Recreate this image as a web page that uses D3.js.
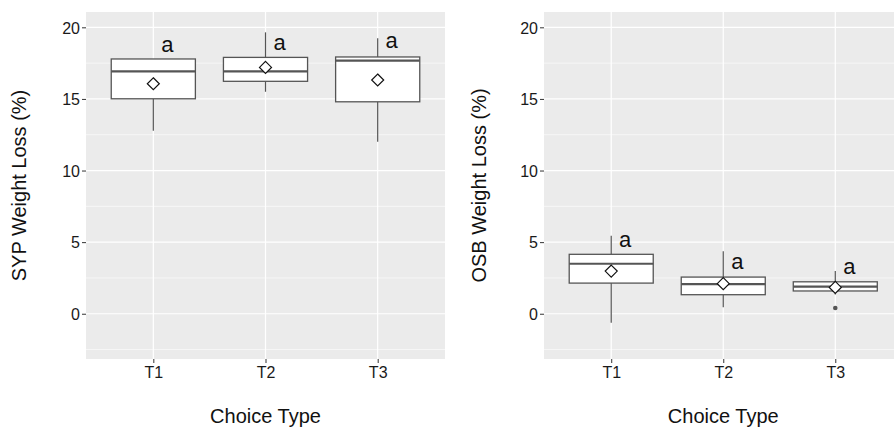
<!DOCTYPE html>
<html>
<head>
<meta charset="utf-8">
<script src="https://cdn.jsdelivr.net/npm/d3@7"></script>
<style>
  body { margin: 0; background: #fff; }
  svg { display: block; font-family: "Liberation Sans", Arial, sans-serif; }
</style>
</head>
<body>
<svg id="viz-container" width="894" height="429"></svg>
<script>
// categories and tick values
var categories = ["T1", "T2", "T3"];
var yTicks = [0, 5, 10, 15, 20];
var yMinor = [-2.5, 2.5, 7.5, 12.5, 17.5];
var letters = ["a", "a", "a"];

// SYP box stats
var sypLower  = [12.78, 15.50, 12.01];
var sypQ1     = [15.01, 16.23, 14.80];
var sypMedian = [16.93, 16.93, 17.67];
var sypQ3     = [17.79, 17.90, 17.93];
var sypUpper  = [17.79, 19.65, 19.23];
var sypMean   = [16.06, 17.20, 16.32];
var sypLetterY = [18.27, 18.41, 18.53];
var sypOutliers = [[], [], []];

// OSB box stats
var osbLower  = [-0.63, 0.45, 1.35];
var osbQ1     = [2.14, 1.33, 1.59];
var osbMedian = [3.49, 2.07, 1.89];
var osbQ3     = [4.15, 2.56, 2.23];
var osbUpper  = [5.45, 4.36, 2.98];
var osbMean   = [2.98, 2.10, 1.84];
var osbLetterY = [4.68, 3.10, 2.75];
var osbOutliers = [[], [], [0.40]];

var svg = d3.select("#viz-container");

function panel(opts) {
  var left = opts.left, right = opts.right, top = 12, bottom = 359;

  // discrete x with 0.6 unit expansion each side
  var x = d3.scalePoint()
    .domain(categories)
    .range([left, right])
    .padding(0.6);
  var step = x.step();
  var xc = function(c) { return x(c); };

  var y = d3.scaleLinear().domain([-3.16, 21.07]).range([bottom, top]);

  var g = svg.append("g");

  // panel background
  g.append("rect")
    .attr("x", left).attr("y", top)
    .attr("width", right - left).attr("height", bottom - top)
    .attr("fill", "#EBEBEB");

  // minor grid
  g.selectAll(".minor").data(yMinor).enter().append("line")
    .attr("x1", left).attr("x2", right)
    .attr("y1", d => y(d)).attr("y2", d => y(d))
    .attr("stroke", "#fff").attr("stroke-width", 0.6);

  // major grid
  g.selectAll(".major").data(yTicks).enter().append("line")
    .attr("x1", left).attr("x2", right)
    .attr("y1", d => y(d)).attr("y2", d => y(d))
    .attr("stroke", "#fff").attr("stroke-width", 1.2);
  g.selectAll(".vgrid").data(categories).enter().append("line")
    .attr("x1", d => xc(d)).attr("x2", d => xc(d))
    .attr("y1", top).attr("y2", bottom)
    .attr("stroke", "#fff").attr("stroke-width", 1.2);

  // y axis ticks + labels
  var yAxis = d3.axisLeft(y).tickValues(yTicks).tickSize(4).tickPadding(2);
  var ya = g.append("g").attr("transform", "translate(" + left + ",0)").call(yAxis);
  ya.select(".domain").remove();
  ya.selectAll(".tick line").attr("stroke", "#333");
  ya.selectAll(".tick text").attr("fill", "#1a1a1a").style("font-size", "16px")
    .attr("dy", "0.36em");

  // x axis ticks + labels
  var xAxis = d3.axisBottom(x).tickSize(4).tickPadding(4);
  var xa = g.append("g").attr("transform", "translate(0," + bottom + ")").call(xAxis);
  xa.select(".domain").remove();
  xa.selectAll(".tick line").attr("stroke", "#333");
  xa.selectAll(".tick text").attr("fill", "#1a1a1a").style("font-size", "16px");

  // boxes
  var bw = step * 0.75;
  var rows = categories.map(function(c, i) {
    return {cat: c, lo: opts.lower[i], q1: opts.q1[i], med: opts.median[i],
      q3: opts.q3[i], hi: opts.upper[i], mean: opts.mean[i],
      ly: opts.letterY[i], out: opts.outliers[i], letter: letters[i]};
  });

  var box = g.selectAll(".box").data(rows).enter().append("g");
  box.append("line")
    .attr("x1", d => xc(d.cat)).attr("x2", d => xc(d.cat))
    .attr("y1", d => y(d.q3)).attr("y2", d => y(d.hi))
    .attr("stroke", "#555").attr("stroke-width", 1.2);
  box.append("line")
    .attr("x1", d => xc(d.cat)).attr("x2", d => xc(d.cat))
    .attr("y1", d => y(d.q1)).attr("y2", d => y(d.lo))
    .attr("stroke", "#555").attr("stroke-width", 1.2);
  box.append("rect")
    .attr("x", d => xc(d.cat) - bw / 2).attr("width", bw)
    .attr("y", d => y(d.q3)).attr("height", d => y(d.q1) - y(d.q3))
    .attr("fill", "#fff").attr("stroke", "#555").attr("stroke-width", 1.3);
  box.append("line")
    .attr("x1", d => xc(d.cat) - bw / 2).attr("x2", d => xc(d.cat) + bw / 2)
    .attr("y1", d => y(d.med)).attr("y2", d => y(d.med))
    .attr("stroke", "#555").attr("stroke-width", 2.2);
  box.selectAll(".out").data(d => d.out.map(v => ({cat: d.cat, v: v}))).enter().append("circle")
    .attr("cx", d => xc(d.cat)).attr("cy", d => y(d.v)).attr("r", 2.3)
    .attr("fill", "#555");
  // mean diamond
  box.append("path")
    .attr("d", d => {
      var cx = xc(d.cat), cy = y(d.mean), r = 6;
      return "M" + cx + "," + (cy - r) + "L" + (cx + r) + "," + cy + "L" + cx + "," + (cy + r) + "L" + (cx - r) + "," + cy + "Z";
    })
    .attr("fill", "#fff").attr("stroke", "#111").attr("stroke-width", 1.2);
  // letters
  box.append("text")
    .attr("x", d => xc(d.cat) + 14).attr("y", d => y(d.ly))
    .attr("text-anchor", "middle")
    .attr("fill", "#111").style("font-size", "22px")
    .text(d => d.letter);

  // axis titles
  svg.append("text")
    .attr("x", (left + right) / 2).attr("y", 423)
    .attr("text-anchor", "middle").attr("fill", "#111")
    .style("font-size", "20px")
    .text("Choice Type");
  svg.append("text")
    .attr("transform", "translate(" + opts.titleX + "," + ((top + bottom) / 2) + ") rotate(-90)")
    .attr("text-anchor", "middle").attr("fill", "#111")
    .style("font-size", "20px")
    .text(opts.title);
}

panel({left: 86, right: 445, titleX: 26, title: "SYP Weight Loss (%)",
  lower: sypLower, q1: sypQ1, median: sypMedian, q3: sypQ3, upper: sypUpper,
  mean: sypMean, letterY: sypLetterY, outliers: sypOutliers});

panel({left: 544, right: 902.5, titleX: 486, title: "OSB Weight Loss (%)",
  lower: osbLower, q1: osbQ1, median: osbMedian, q3: osbQ3, upper: osbUpper,
  mean: osbMean, letterY: osbLetterY, outliers: osbOutliers});
</script>
</body>
</html>
